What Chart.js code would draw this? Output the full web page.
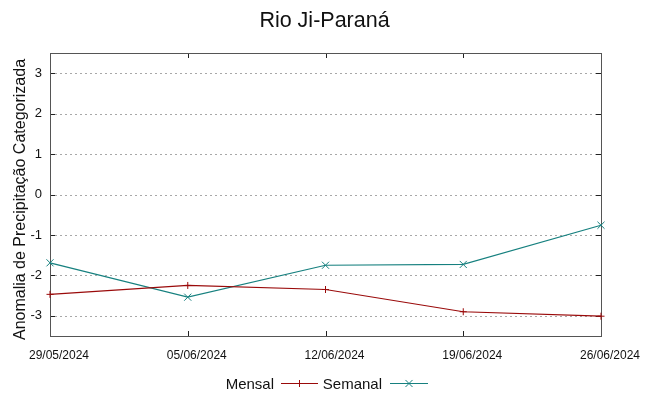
<!DOCTYPE html>
<html>
<head>
<meta charset="utf-8">
<script src="https://cdn.jsdelivr.net/npm/chart.js@4/dist/chart.umd.min.js"></script>
<style>
  html, body { margin: 0; padding: 0; background: #ffffff; }
  #wrap { width: 649px; height: 396px; }
</style>
</head>
<body>
<div id="wrap"><canvas id="c" width="649" height="396"></canvas></div>
<script>
const chartTitle = "Rio Ji-Paraná";
const yAxisTitle = "Anomalia de Precipitação Categorizada";
const dates = ["29/05/2024", "05/06/2024", "12/06/2024", "19/06/2024", "26/06/2024"];
const mensal = [-2.47, -2.25, -2.35, -2.90, -3.01];
const semanal = [-1.69, -2.54, -1.75, -1.73, -0.76];
const yTicks = [-3, -2, -1, 0, 1, 2, 3];
const yMin = -3.5, yMax = 3.5;
const seriesNames = ["Mensal", "Semanal"];

const RED = "#9a0a0a";
const TEAL = "#16807f";

const framePlugin = {
  id: "frame",
  beforeDatasetsDraw(chart) {
    const ctx = chart.ctx, a = chart.chartArea;
    const xs = chart.scales.x, ys = chart.scales.y;
    ctx.save();
    // dotted horizontal grid
    ctx.strokeStyle = "#a8a8a8";
    ctx.lineWidth = 1;
    ctx.setLineDash([2, 3]);
    yTicks.forEach(v => {
      const y = Math.round(ys.getPixelForValue(v)) + 0.5;
      ctx.beginPath(); ctx.moveTo(a.left, y); ctx.lineTo(a.right, y); ctx.stroke();
    });
    ctx.setLineDash([]);
    // inward tick marks
    ctx.strokeStyle = "#222";
    const tl = 5;
    yTicks.forEach(v => {
      const y = Math.round(ys.getPixelForValue(v)) + 0.5;
      ctx.beginPath();
      ctx.moveTo(a.left, y); ctx.lineTo(a.left + tl, y);
      ctx.moveTo(a.right, y); ctx.lineTo(a.right - tl, y);
      ctx.stroke();
    });
    dates.forEach((d, i) => {
      const x = Math.round(xs.getPixelForValue(i)) + 0.5;
      ctx.beginPath();
      ctx.moveTo(x, a.bottom); ctx.lineTo(x, a.bottom - tl);
      ctx.moveTo(x, a.top); ctx.lineTo(x, a.top + tl);
      ctx.stroke();
    });
    // border
    ctx.strokeStyle = "#555";
    ctx.strokeRect(Math.round(a.left) + 0.5, Math.round(a.top) + 0.5,
                   Math.round(a.right - a.left), Math.round(a.bottom - a.top));
    ctx.restore();
  },
  afterDraw(chart) {
    const ctx = chart.ctx;
    ctx.save();
    ctx.fillStyle = "#111";
    // title
    ctx.font = "21.5px 'Liberation Sans', Arial, sans-serif";
    ctx.textAlign = "center";
    ctx.textBaseline = "alphabetic";
    ctx.fillText(chartTitle, 324.5, 27);
    // y axis title
    ctx.save();
    ctx.translate(24.5, 199.5);
    ctx.rotate(-Math.PI / 2);
    ctx.font = "16px 'Liberation Sans', Arial, sans-serif";
    ctx.textAlign = "center";
    ctx.fillText(yAxisTitle, 0, 0);
    ctx.restore();
    // legend (text then sample, gnuplot style)
    ctx.font = "15px 'Liberation Sans', Arial, sans-serif";
    ctx.textAlign = "right";
    ctx.textBaseline = "alphabetic";
    const ly = 383.5;
    const items = [
      { name: seriesNames[0], textRight: 274, x0: 281, x1: 318, color: RED, style: "cross" },
      { name: seriesNames[1], textRight: 382, x0: 390, x1: 428, color: TEAL, style: "crossRot" }
    ];
    items.forEach(it => {
      ctx.fillStyle = "#111";
      ctx.fillText(it.name, it.textRight, 389);
      ctx.strokeStyle = it.color;
      ctx.lineWidth = 1;
      ctx.beginPath(); ctx.moveTo(it.x0, ly); ctx.lineTo(it.x1, ly); ctx.stroke();
      const cx = (it.x0 + it.x1) / 2;
      Chart.helpers.drawPoint(ctx, { pointStyle: it.style, radius: it.style === "cross" ? 3.5 : 5, borderWidth: 1, rotation: 0 }, cx, ly);
    });
    ctx.restore();
  }
};

new Chart(document.getElementById("c"), {
  type: "line",
  data: {
    labels: dates,
    datasets: [
      {
        label: seriesNames[0], data: mensal,
        borderColor: RED, backgroundColor: RED, borderWidth: 1.2,
        pointStyle: "cross", pointRadius: 3.5, pointBorderWidth: 1,
        pointBorderColor: RED, tension: 0, fill: false
      },
      {
        label: seriesNames[1], data: semanal,
        borderColor: TEAL, backgroundColor: TEAL, borderWidth: 1.2,
        pointStyle: "crossRot", pointRadius: 5, pointBorderWidth: 1,
        pointBorderColor: TEAL, tension: 0, fill: false
      }
    ]
  },
  options: {
    responsive: false,
    animation: false,
    events: [],
    layout: { padding: { top: 53, right: 48, left: 0, bottom: 0 } },
    plugins: { legend: { display: false }, title: { display: false }, tooltip: { enabled: false } },
    scales: {
      x: {
        type: "category",
        offset: false,
        grid: { display: false, drawTicks: false },
        border: { display: false },
        ticks: {
          color: "#111", padding: 12, labelOffset: 9, maxRotation: 0, autoSkip: false,
          font: { family: "'Liberation Sans', Arial, sans-serif", size: 12 }
        },
        afterFit(s) { s.height = 60; }
      },
      y: {
        min: yMin, max: yMax,
        grid: { display: false, drawTicks: false },
        border: { display: false },
        afterBuildTicks(s) { s.ticks = yTicks.map(v => ({ value: v })); },
        ticks: {
          color: "#111", padding: 8,
          font: { family: "'Liberation Sans', Arial, sans-serif", size: 13 },
          callback: v => String(v)
        },
        afterFit(s) { s.width = 50; }
      }
    }
  },
  plugins: [framePlugin]
});
</script>
</body>
</html>
